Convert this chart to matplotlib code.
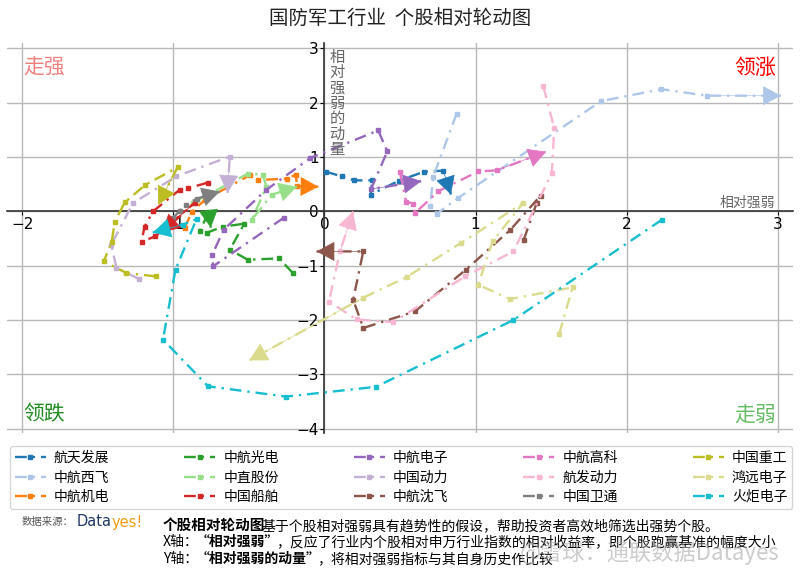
import matplotlib
matplotlib.use("Agg")
import matplotlib.pyplot as plt

plt.rcParams['font.family'] = ['Noto Sans CJK SC', 'DejaVu Sans']
plt.rcParams['axes.unicode_minus'] = True

names = ["航天发展", "中航西飞", "中航机电", "中航光电", "中直股份", "中国船舶",
         "中航电子", "中国动力", "中航沈飞", "中航高科", "航发动力", "中国卫通",
         "中国重工", "鸿远电子", "火炬电子"]
colors = ["#1f77b4", "#aec7e8", "#ff7f0e", "#2ca02c", "#98df8a", "#d62728",
          "#9467bd", "#c5b0d5", "#8c564b", "#e377c2", "#f7b6d2", "#7f7f7f",
          "#bcbd22", "#dbdb8d", "#17becf"]

x_htfz = [0.01, 0.114, 0.197, 0.316, 0.306, 0.493, 0.66, 0.786, 0.837]
y_htfz = [0.73, 0.645, 0.571, 0.571, 0.308, 0.565, 0.731, 0.75, 0.31]
x_zhxf = [0.875, 0.72, 0.70, 0.745, 0.886, 1.83, 2.23, 2.53, 3.02]
y_zhxf = [1.80, 0.64, 0.105, -0.04, 0.25, 2.03, 2.25, 2.13, 2.13]
x_zhjd = [-0.924, -0.877, -0.79, -0.493, -0.437, -0.248, -0.19, -0.18, -0.04]
y_zhjd = [-0.30, -0.01, 0.215, 0.667, 0.58, 0.60, 0.675, 0.46, 0.455]
x_zhgd = [-0.209, -0.30, -0.507, -0.626, -0.53, -0.67, -0.778, -0.825, -0.765, -0.752]
y_zhgd = [-1.134, -0.866, -0.89, -0.705, -0.227, -0.28, -0.392, -0.355, -0.02, -0.30]
x_zzgf = [-0.871, -0.507, -0.407, -0.384, -0.48, -0.348, -0.182]
y_zzgf = [0.16, 0.694, 0.676, 0.455, -0.153, 0.308, 0.455]
x_zgcb = [-0.77, -0.90, -0.957, -1.134, -1.19, -1.21, -1.12, -0.858, -1.076]
y_zgcb = [0.53, 0.43, 0.40, 0.0, -0.28, -0.56, -0.46, 0.16, -0.39]
x_zhdz = [-0.268, -0.736, -0.743, -0.666, -0.389, -0.093, 0.356, 0.416, 0.308, 0.64]
y_zhdz = [-0.116, -1.01, -0.80, -0.337, 0.387, 0.983, 1.49, 1.105, 0.41, 0.556]
x_zgdl = [-1.226, -1.376, -1.41, -1.266, -0.979, -0.626, -0.641]
y_zgdl = [-1.245, -1.04, -0.61, 0.155, 0.645, 1.01, 0.34]
x_zhsf = [1.319, 1.405, 1.43, 1.231, 0.936, 0.599, 0.257, 0.19, 0.257, -0.052]
y_zhsf = [-0.52, 0.16, 0.289, -0.337, -1.074, -1.841, -2.147, -1.626, -0.737, -0.737]
x_zhgk = [0.5, 0.54, 0.588, 0.60, 0.754, 1.019, 1.14, 1.467]
y_zhgk = [0.72, 0.18, 0.142, -0.03, 0.372, 0.737, 0.755, 1.10]
x_fadl = [1.449, 1.52, 1.505, 1.25, 0.93, 0.456, 0.213, 0.03, 0.103, 0.19]
y_fadl = [2.30, 1.535, 0.707, -0.737, -1.197, -2.04, -1.99, -1.66, -0.737, 0.0]
x_zgwt = [-1.0, -0.957, -0.917, -0.844, -0.692]
y_zgwt = [-0.116, 0.013, 0.123, 0.234, 0.363]
x_zgzg = [-1.116, -1.31, -1.46, -1.407, -1.387, -1.321, -1.184, -0.972, -1.10]
y_zgzg = [-1.197, -1.134, -0.92, -0.558, -0.19, 0.166, 0.49, 0.81, 0.12]
x_hydz = [1.553, 1.642, 1.227, 1.017, 1.112, 1.315, 0.903, 0.544, 0.253, -0.497]
y_hydz = [-2.252, -1.40, -1.613, -1.35, -0.552, 0.155, -0.582, -1.208, -1.595, -2.744]
x_hjdz = [2.233, 1.25, 0.341, -0.255, -0.77, -1.068, -0.985, -0.846, -0.937, -1.136]
y_hjdz = [-0.153, -2.0, -3.23, -3.41, -3.22, -2.36, -1.07, -0.14, -0.245, -0.39]

xs = [x_htfz, x_zhxf, x_zhjd, x_zhgd, x_zzgf, x_zgcb, x_zhdz, x_zgdl,
      x_zhsf, x_zhgk, x_fadl, x_zgwt, x_zgzg, x_hydz, x_hjdz]
ys = [y_htfz, y_zhxf, y_zhjd, y_zhgd, y_zzgf, y_zgcb, y_zhdz, y_zgdl,
      y_zhsf, y_zhgk, y_fadl, y_zgwt, y_zgzg, y_hydz, y_hjdz]

xticks = [-2, -1, 0, 1, 2, 3]
yticks = [-4, -3, -2, -1, 0, 1, 2, 3]

fig = plt.figure(figsize=(8.0, 5.77), dpi=100)
ax = fig.add_axes([7/800, 1-433/577, 786/800, 390/577])
ax.set_xlim(-2.1, 3.1)
ax.set_ylim(-4.08, 3.1)

ax.grid(True, color="#b8b8b8", lw=1)
ax.set_axisbelow(True)
for s in ["top", "right"]:
    ax.spines[s].set_visible(False)
ax.spines["left"].set_position(("data", 0))
ax.spines["bottom"].set_position(("data", 0))
for s in ["left", "bottom"]:
    ax.spines[s].set_color("#333333")
    ax.spines[s].set_linewidth(1.2)
ax.set_xticks(xticks)
ax.set_yticks(yticks)
ax.tick_params(labelsize=11, length=3, pad=1)
for lbl in ax.get_xticklabels() + ax.get_yticklabels():
    lbl.set_family("DejaVu Sans")

dash = (0, (5, 2.5, 1, 2.5))
for name, c, x, y in zip(names, colors, xs, ys):
    ax.plot(x, y, color=c, lw=1.7, ls=dash, marker="s", markersize=3.5,
            markevery=list(range(len(x) - 1)), label=name, zorder=3)
    ax.annotate("", xy=(x[-1], y[-1]), xytext=(x[-2], y[-2]),
                arrowprops=dict(arrowstyle="-|>,head_length=0.5,head_width=0.27",
                                mutation_scale=24, color=c, lw=0.5,
                                shrinkA=0, shrinkB=0), zorder=4)

# quadrant labels
ax.text(0.021, 0.965, "走强", transform=ax.transAxes, color="#f08080",
        fontsize=15, va="top", ha="left")
ax.text(0.979, 0.965, "领涨", transform=ax.transAxes, color="#ff0000",
        fontsize=15, va="top", ha="right")
ax.text(0.021, 0.02, "领跌", transform=ax.transAxes, color="#228b22",
        fontsize=15, va="bottom", ha="left")
ax.text(0.979, 0.02, "走弱", transform=ax.transAxes, color="#66bb66",
        fontsize=15, va="bottom", ha="right")

ax.text(2.98, 0.03, "相对强弱", color="#666666", fontsize=10, ha="right", va="bottom")
ax.text(0.035, 3.0, "\n".join("相对强弱的动量"), color="#666666", fontsize=11,
        ha="left", va="top", linespacing=0.88)

fig.text(0.5, 1-18/577, "国防军工行业  个股相对轮动图", ha="center", va="center",
         fontsize=14, color="#222222")

handles, labels = ax.get_legend_handles_labels()
fig.legend(handles, labels, ncol=5, loc="upper left",
           bbox_to_anchor=(10/800, 1-446/577),
           fontsize=10, frameon=True, edgecolor="#cccccc", fancybox=True,
           handlelength=2.23, borderaxespad=0, borderpad=0.35, labelspacing=0.4,
           handletextpad=0.58, columnspacing=5.4)


def chain(prev, s, dx=0, **kw):
    return ax.annotate(s, xy=(1, 0), xycoords=prev, xytext=(dx, 0),
                       textcoords="offset pixels", va="bottom", ha="left",
                       annotation_clip=False, **kw)


fig.text(22/800, 1-522/577, "数据来源：", fontsize=7.5, color="#555555", va="center")
t_data = fig.text(77/800, 1-522/577, "Data", fontsize=10.5, color="#1f3864",
                  va="center", family="DejaVu Sans")
ax.annotate("yes!", xy=(1, 0.5), xycoords=t_data, va="center", ha="left",
            fontsize=10.5, color="#f39c12", family="DejaVu Sans",
            annotation_clip=False)

l1 = fig.text(163/800, 1-525/577, "个股相对轮动图", fontsize=10.5, fontweight="bold",
              va="center")
chain(l1, "基于个股相对强弱具有趋势性的假设，帮助投资者高效地筛选出强势个股。",
      dx=-4, fontsize=10)
l2 = fig.text(163/800, 1-542/577, "X轴：", fontsize=10, va="center")
l2b = chain(l2, "“相对强弱”", dx=-3, fontsize=10, fontweight="bold")
chain(l2b, "，反应了行业内个股相对申万行业指数的相对收益率，即个股跑赢基准的幅度大小",
      dx=-3, fontsize=10)
l3 = fig.text(163/800, 1-559/577, "Y轴：", fontsize=10, va="center")
l3b = chain(l3, "“相对强弱的动量”", dx=-3, fontsize=10, fontweight="bold")
chain(l3b, "，将相对强弱指标与其自身历史作比较", dx=-3, fontsize=10)

fig.text(779/800, 1-553/577, "@雪球：通联数据Datayes", fontsize=16, color="#aaaaaa",
         alpha=0.6, ha="right", va="center")

fig.savefig("out.png", dpi=100)
